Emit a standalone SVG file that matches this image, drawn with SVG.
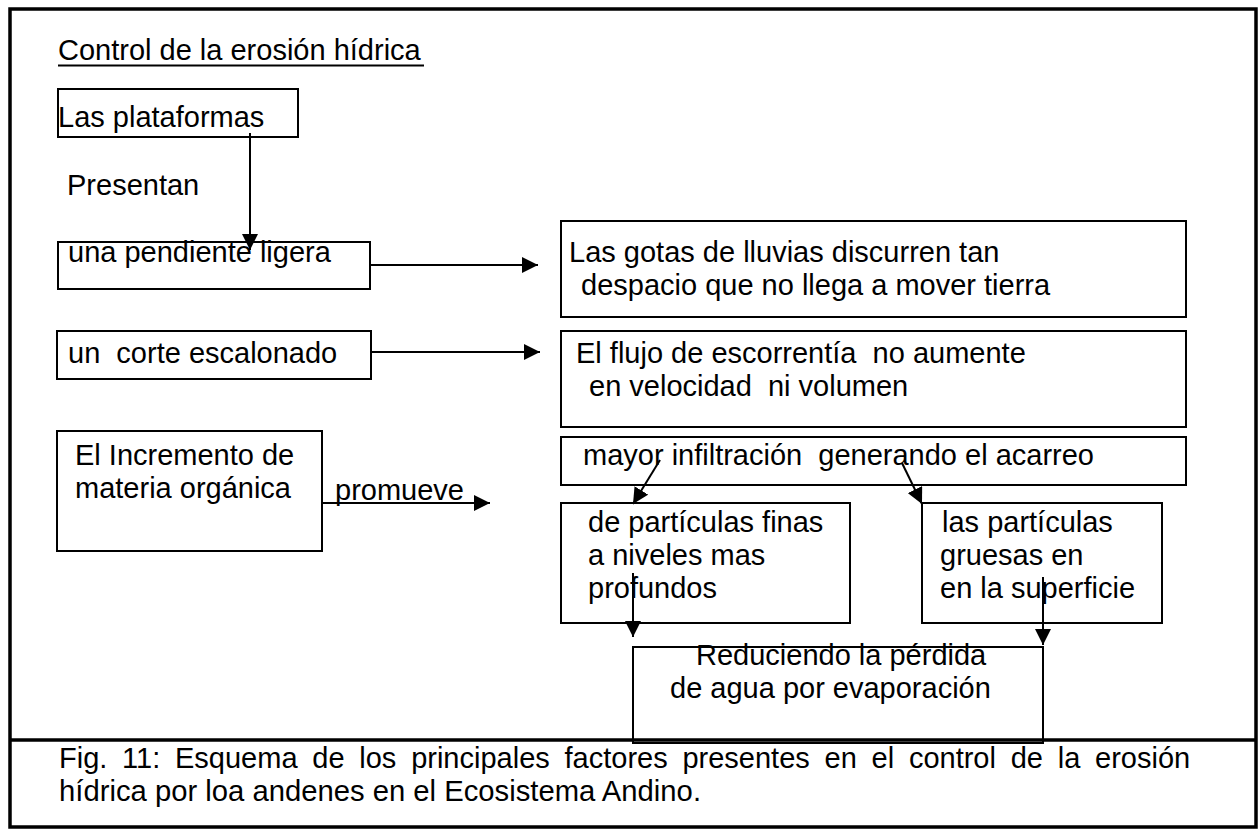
<svg xmlns="http://www.w3.org/2000/svg" width="1258" height="829" viewBox="0 0 1258 829">
<style>
.t{font-family:"Liberation Sans",Arial,sans-serif;font-size:29px;fill:#000}
.b{fill:none;stroke:#000;stroke-width:2}
.c{stroke:#000;stroke-width:2;fill:none}
.fr{fill:none;stroke:#000;stroke-width:3.5}
</style>
<defs>
<marker id="ah" markerUnits="userSpaceOnUse" markerWidth="16" markerHeight="16" viewBox="0 0 16 16" refX="16" refY="8" orient="auto">
<path d="M0,0 L16,8 L0,16 z" fill="#000"/>
</marker>
</defs>
<rect fill="#fff" x="0" y="0" width="1258" height="829"/>
<g id="frame">
<rect class="fr" x="10" y="9" width="1246" height="818"/>
<line class="fr" x1="10" y1="740" x2="1256" y2="740"/>
</g>
<g id="title">
<text class="t" x="58" y="60">Control de la erosión hídrica</text>
<line x1="58" y1="65.5" x2="424" y2="65.5" stroke="#000" stroke-width="2"/>
</g>
<g id="n-plataformas">
<rect class="b" x="58" y="89" width="240" height="48"/>
<text class="t" x="58" y="127">Las plataformas</text>
</g>
<g id="l-presentan"><text class="t" x="67" y="195">Presentan</text></g>
<g id="n-pendiente">
<rect class="b" x="58" y="242" width="312" height="47"/>
<text class="t" x="68" y="262">una pendiente ligera</text>
</g>
<g id="n-corte">
<rect class="b" x="57" y="331" width="314" height="48"/>
<text class="t" x="68" y="363" xml:space="preserve">un  corte escalonado</text>
</g>
<g id="n-gotas">
<rect class="b" x="561" y="221" width="625" height="96"/>
<text class="t" x="569" y="262">Las gotas de lluvias discurren tan</text>
<text class="t" x="581" y="295">despacio que no llega a mover tierra</text>
</g>
<g id="n-flujo">
<rect class="b" x="561" y="331" width="625" height="96"/>
<text class="t" x="576" y="363" xml:space="preserve">El flujo de escorrentía  no aumente</text>
<text class="t" x="589" y="396" xml:space="preserve">en velocidad  ni volumen</text>
</g>
<g id="n-incremento">
<rect class="b" x="57" y="431" width="265" height="120"/>
<text class="t" x="75" y="465">El Incremento de</text>
<text class="t" x="75" y="498">materia orgánica</text>
</g>
<g id="l-promueve"><text class="t" x="335" y="500">promueve</text></g>
<g id="n-infiltracion">
<rect class="b" x="561" y="437" width="625" height="48"/>
<text class="t" x="583" y="465" xml:space="preserve">mayor infiltración  generando el acarreo</text>
</g>
<g id="n-finas">
<rect class="b" x="561" y="503" width="289" height="120"/>
<text class="t" x="588" y="532">de partículas finas</text>
<text class="t" x="588" y="565">a niveles mas</text>
<text class="t" x="588" y="598">profundos</text>
</g>
<g id="n-gruesas">
<rect class="b" x="922" y="503" width="240" height="120"/>
<text class="t" x="942" y="532">las partículas</text>
<text class="t" x="940" y="565">gruesas en</text>
<text class="t" x="940" y="598">en la superficie</text>
</g>
<g id="n-reduciendo">
<rect class="b" x="633" y="647" width="410" height="96"/>
<text class="t" x="696" y="665">Reduciendo la pérdida</text>
<text class="t" x="670" y="698">de agua por evaporación</text>
</g>
<g id="connectors">
<line class="c" x1="250" y1="133" x2="250" y2="250" marker-end="url(#ah)"/>
<line class="c" x1="370" y1="265" x2="538" y2="265" marker-end="url(#ah)"/>
<line class="c" x1="371" y1="352" x2="540" y2="352" marker-end="url(#ah)"/>
<line class="c" x1="322" y1="503" x2="490" y2="503" marker-end="url(#ah)"/>
<line class="c" x1="660" y1="460" x2="633" y2="504" marker-end="url(#ah)"/>
<line class="c" x1="902" y1="463" x2="922" y2="504" marker-end="url(#ah)"/>
<line class="c" x1="633" y1="573" x2="633" y2="637" marker-end="url(#ah)"/>
<line class="c" x1="1043" y1="577" x2="1043" y2="645" marker-end="url(#ah)"/>
</g>
<g id="caption">
<text class="t" x="59" y="768" word-spacing="6.7">Fig. 11: Esquema de los principales factores presentes en el control de la erosión</text>
<text class="t" x="59" y="801" textLength="642" lengthAdjust="spacingAndGlyphs">hídrica por loa andenes en el Ecosistema Andino.</text>
</g>
</svg>
